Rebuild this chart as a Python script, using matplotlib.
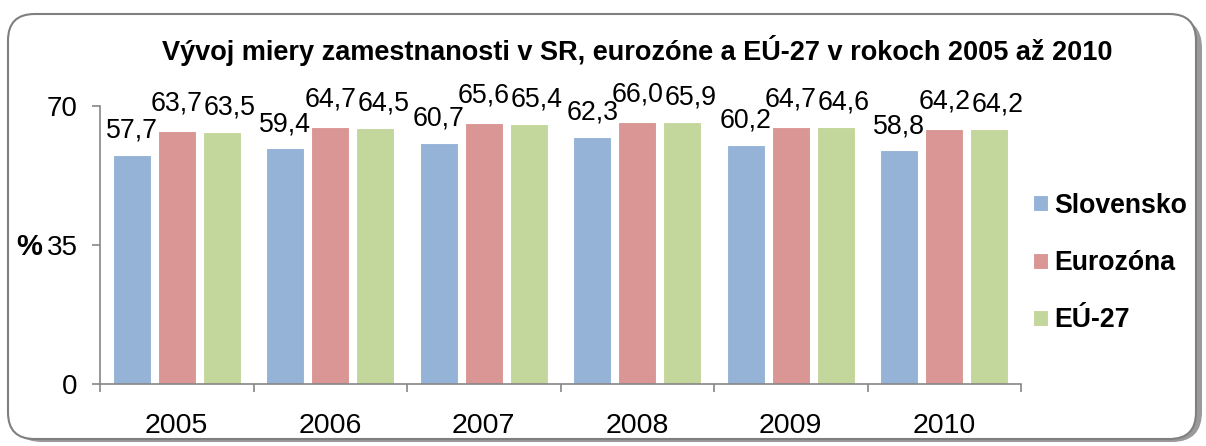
import matplotlib
matplotlib.use("Agg")
import matplotlib.pyplot as plt
import numpy as np
from matplotlib.patches import FancyBboxPatch

plt.rcParams['font.family'] = ['Liberation Sans', 'DejaVu Sans']

years = ["2005", "2006", "2007", "2008", "2009", "2010"]
series_names = ["Slovensko", "Eurozóna", "EÚ-27"]
slovensko = [57.7, 59.4, 60.7, 62.3, 60.2, 58.8]
eurozona = [63.7, 64.7, 65.6, 66.0, 64.7, 64.2]
eu27 = [63.5, 64.5, 65.4, 65.9, 64.6, 64.2]
colors = ["#95B3D7", "#D99694", "#C3D69B"]
title = "Vývoj miery zamestnanosti v SR, eurozóne a EÚ-27 v rokoch 2005 až 2010"

W, H = 1206, 446
fig = plt.figure(figsize=(W / 100, H / 100), dpi=100)

# outer rounded frame with shadow
shadow = FancyBboxPatch((12 / W, 4 / H), (1190 / W), (424 / H),
                        boxstyle="round,pad=0,rounding_size=0.025",
                        transform=fig.transFigure, facecolor="#9a9a9a",
                        edgecolor="none", zorder=-3, mutation_aspect=W / H)
fig.patches.append(shadow)
frame = FancyBboxPatch((8 / W, 7 / H), (1188 / W), (425 / H),
                       boxstyle="round,pad=0,rounding_size=0.022",
                       transform=fig.transFigure, facecolor="white",
                       edgecolor="#7f7f7f", linewidth=1.5, zorder=-2,
                       mutation_aspect=W / H)
fig.patches.append(frame)

left, right = 100 / W, 1021 / W
bottom, top = (H - 384) / H, (H - 106) / H
ax = fig.add_axes([left, bottom, right - left, top - bottom])
ax.set_zorder(2)
ax.set_facecolor("none")

x = np.arange(len(years))
step = 0.293
width = 0.245
data = [slovensko, eurozona, eu27]
label_dy = [12.2, 15.0, 12.6]
label_dx = [0, 0, 6]
for i, (vals, col) in enumerate(zip(data, colors)):
    xs = x + (i - 1) * step
    ax.bar(xs, vals, width=width, color=col, edgecolor="white",
           linewidth=0.8, label=series_names[i], zorder=2)
    for xi, v in zip(xs, vals):
        ax.annotate(f"{v:.1f}".replace(".", ","), (xi, v),
                    xytext=(label_dx[i], label_dy[i]), textcoords="offset points",
                    ha="center", va="baseline", fontsize=19.3, color="black")

ax.set_xlim(-0.5, len(years) - 0.5)
ax.set_ylim(0, 70)
ax.set_yticks([0, 35, 70])
ax.set_yticklabels(["0", "35", "70"], fontsize=20)
ax.set_xticks(np.arange(-0.5, len(years), 1.0))
ax.set_xticklabels([""] * (len(years) + 1))
ax.set_xticks(x, minor=True)
ax.set_xticklabels(years, minor=True, fontsize=20.5)
ax.tick_params(axis="x", which="minor", length=0, pad=21)
ax.tick_params(axis="x", which="major", length=6, width=1.2, color="#868686", direction="out")
ax.tick_params(axis="y", length=6, width=1.2, color="#868686", direction="out", pad=10)
for s in ["top", "right"]:
    ax.spines[s].set_visible(False)
for s in ["left", "bottom"]:
    ax.spines[s].set_color("#868686")
    ax.spines[s].set_linewidth(1.2)

ax.set_ylabel("%", rotation=0, fontsize=21, fontweight="bold", ha="right", va="center")
ax.yaxis.set_label_coords((42 - 100) / 921, (384 - 247) / 278)

fig.text(637 / W, 1 - 50 / H, title, ha="center", va="center",
         fontsize=19.5, fontweight="bold")

leg = ax.legend(loc="center left", bbox_to_anchor=(1.0, (384 - 263) / 278), frameon=False,
                prop={"size": 19.2, "weight": "bold"}, handlelength=0.55,
                handleheight=0.55, handletextpad=0.25, labelspacing=1.18,
                borderpad=0.0, borderaxespad=0.45)

fig.savefig("out.png", dpi=100)
